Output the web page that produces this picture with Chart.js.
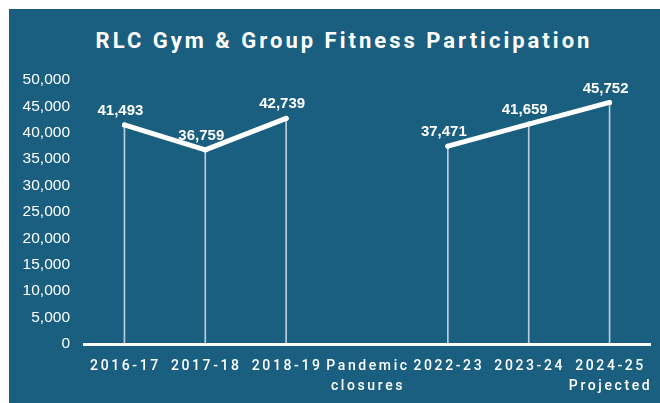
<!DOCTYPE html>
<html>
<head>
<meta charset="utf-8">
<script src="https://cdn.jsdelivr.net/npm/chart.js@4.4.1/dist/chart.umd.min.js"></script>
<style>
	html, body { margin: 0; padding: 0; background: #ffffff; }
	#panel {
		position: absolute; left: 9px; top: 9px; width: 651px; height: 394px;
		background: #1a5e80; overflow: hidden;
	}
	#titulo {
		position: absolute; left: 0; top: 19px; width: 670px; text-align: center;
		color: #ffffff; font: bold 22px Roboto, sans-serif; letter-spacing: 3px;
	}
	#grafica { position: absolute; left: 0; top: 0; }
</style>
</head>
<body>
<div id="panel">
	<div id="titulo">RLC Gym &amp; Group Fitness Participation</div>
	<canvas id="grafica" width="651" height="394"></canvas>
</div>
<script>
// Temporadas (la de pandemia queda sin dato)
var temporadas = [['2016-17'], ['2017-18'], ['2018-19'], ['Pandemic', 'closures'], ['2022-23'], ['2023-24'], ['2024-25', 'Projected']];
var participacion = [41493, 36759, 42739, null, 37471, 41659, 45752];
var ticks_y = [0, 5000, 10000, 15000, 20000, 25000, 30000, 35000, 40000, 45000, 50000];

var blanco = '#ffffff';

// Etiquetas con el valor encima de cada punto
var etiquetasValor = {
	id: 'etiquetasValor',
	afterDatasetsDraw: function(chart) {
		var ctx = chart.ctx;
		var puntos = chart.getDatasetMeta(1).data;
		ctx.save();
		ctx.fillStyle = blanco;
		ctx.font = 'bold 15px "Liberation Sans", Arial, sans-serif';
		ctx.textAlign = 'center';
		ctx.textBaseline = 'middle';
		for (var i = 0; i < puntos.length; i++) {
			if (participacion[i] === null) continue;
			ctx.fillText(participacion[i].toLocaleString('en-US'), puntos[i].x - 4, puntos[i].y - 14);
		}
		ctx.restore();
	}
};

// Rotulos del eje x con espaciado entre letras
var rotulosX = {
	id: 'rotulosX',
	afterDraw: function(chart) {
		var ctx = chart.ctx;
		var eje = chart.scales.x;
		ctx.save();
		ctx.fillStyle = blanco;
		ctx.font = '500 14px Roboto, sans-serif';
		ctx.letterSpacing = '2.6px';
		ctx.textAlign = 'center';
		ctx.textBaseline = 'middle';
		for (var i = 0; i < temporadas.length; i++) {
			var x = eje.getPixelForTick(i) + 1;
			for (var j = 0; j < temporadas[i].length; j++) {
				ctx.fillText(temporadas[i][j], x, eje.top + 22 + j * 20);
			}
		}
		ctx.restore();
	}
};

var ctx = document.getElementById('grafica').getContext('2d');
var chart = new Chart(ctx, {
	data: {
		labels: temporadas,
		datasets: [{
			// lineas verticales hasta el eje
			type: 'bar',
			data: participacion,
			backgroundColor: 'rgba(255, 255, 255, 0.7)',
			barThickness: 1,
			order: 2
		}, {
			type: 'line',
			data: participacion,
			borderColor: blanco,
			borderWidth: 5,
			borderCapStyle: 'round',
			borderJoinStyle: 'round',
			pointRadius: 2.5,
			pointBackgroundColor: blanco,
			pointBorderWidth: 0,
			spanGaps: false,
			order: 1
		}]
	},
	options: {
		responsive: false,
		animation: false,
		layout: { padding: { left: 7, top: 71, right: 10, bottom: 0 } },
		plugins: {
			legend: { display: false },
			tooltip: { enabled: false }
		},
		scales: {
			x: {
				offset: true,
				grid: { display: false },
				border: { display: true, color: blanco, width: 3 },
				ticks: { display: false },
				afterFit: function(scale) { scale.height = 59; }
			},
			y: {
				min: 0,
				max: 50000,
				afterBuildTicks: function(scale) {
					scale.ticks = ticks_y.map(function(v) { return { value: v }; });
				},
				grid: { display: false, drawTicks: false },
				border: { display: false },
				ticks: {
					color: blanco,
					padding: 14,
					font: { family: '"Liberation Sans", Arial, sans-serif', size: 15.5 },
					callback: function(v) { return v.toLocaleString('en-US'); }
				},
				afterFit: function(scale) { scale.width = 68; }
			}
		}
	},
	plugins: [etiquetasValor, rotulosX]
});
</script>
</body>
</html>
